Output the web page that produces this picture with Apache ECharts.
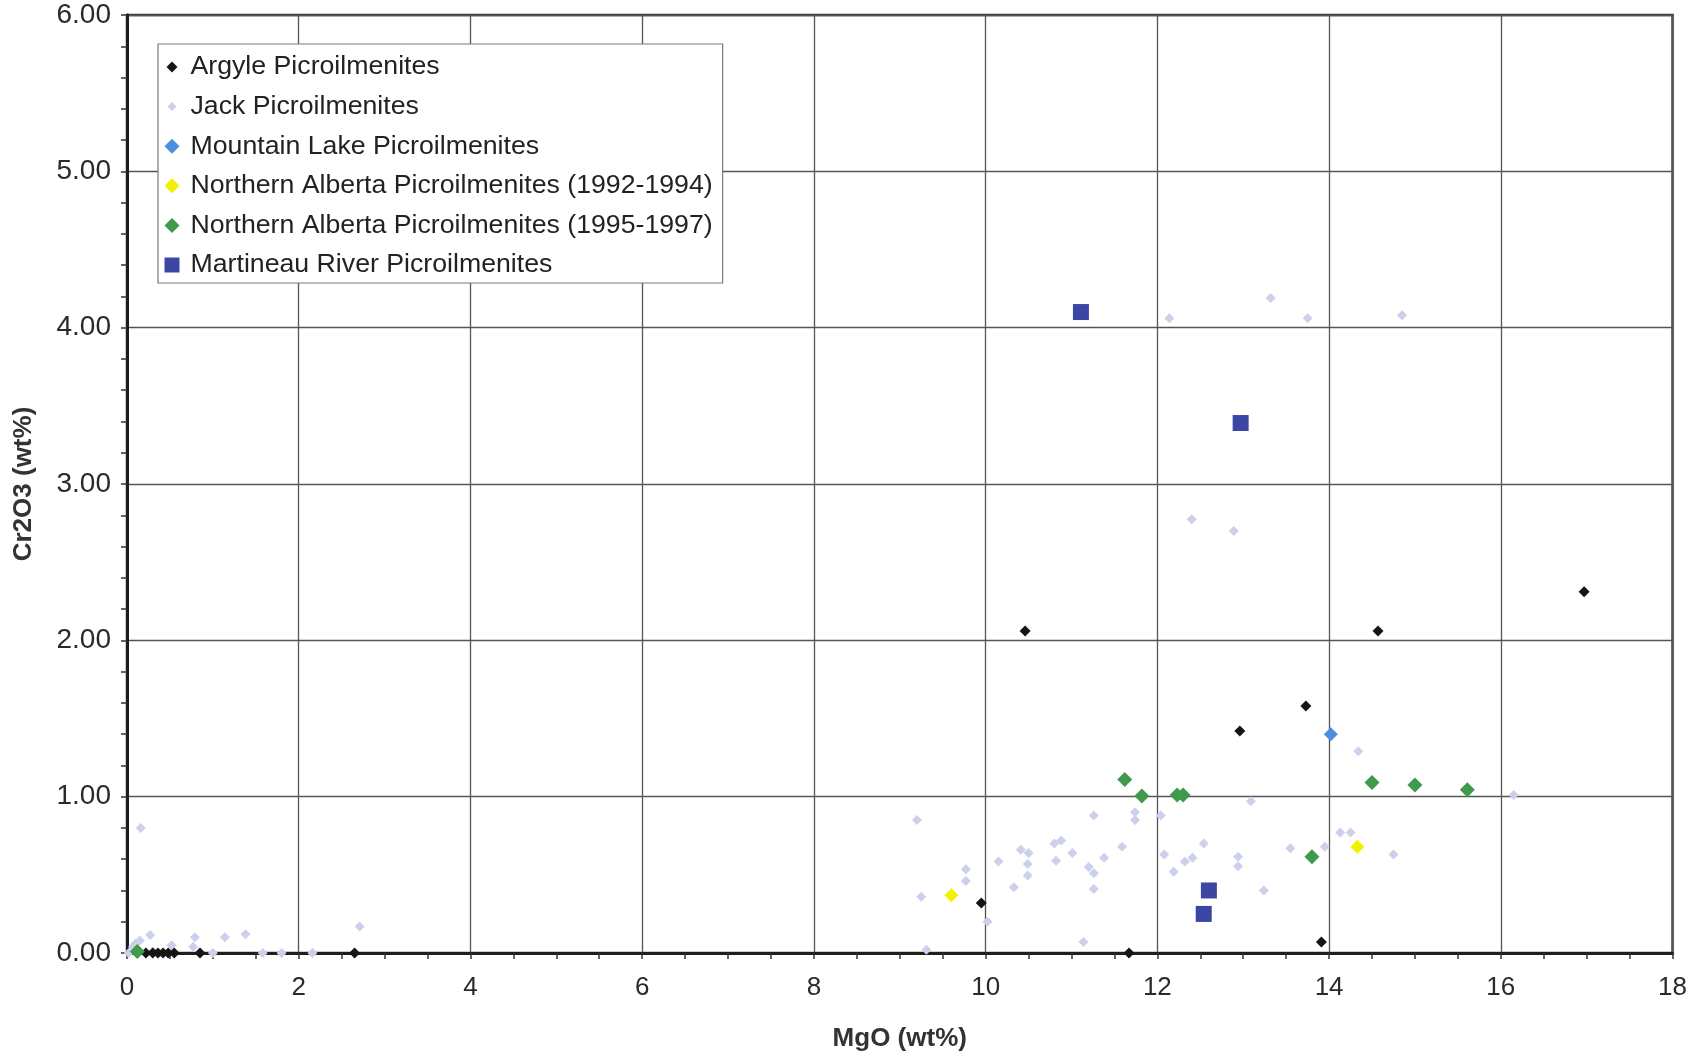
<!DOCTYPE html>
<html>
<head>
<meta charset="utf-8">
<title>Cr2O3 vs MgO – Picroilmenites</title>
<script src="https://cdn.jsdelivr.net/npm/echarts@6/dist/echarts.min.js"></script>
<style>
  html, body { margin: 0; padding: 0; background: #fff; }
  #chart { width: 1690px; height: 1060px; }
</style>
</head>
<body>
<div id="chart"></div>
<script>
// Picroilmenite compositions: [MgO wt%, Cr2O3 wt%]
const argyle = [
  [0.22, 0], [0.30, 0], [0.36, 0], [0.42, 0], [0.48, 0], [0.55, 0], [0.85, 0], [2.65, 0],
  [9.95, 0.32], [10.46, 2.06], [11.67, 0], [12.96, 1.42], [13.73, 1.58],
  [13.91, 0.07], [14.57, 2.06], [16.97, 2.31]
];
const jack = [
  [0.02, 0], [0.07, 0.04], [0.10, 0.06], [0.15, 0.08], [0.27, 0.115], [0.30, 0.01],
  [0.52, 0.05], [0.77, 0.04], [0.79, 0.10], [1.00, 0], [1.14, 0.10], [1.38, 0.12],
  [1.58, 0], [1.80, 0], [2.16, 0], [2.71, 0.17], [0.16, 0.80],
  [9.20, 0.85], [9.25, 0.36], [9.31, 0.02], [9.77, 0.535], [9.77, 0.46], [10.02, 0.20],
  [10.15, 0.585], [10.33, 0.42], [10.41, 0.66], [10.50, 0.64], [10.49, 0.57], [10.49, 0.495],
  [10.80, 0.70], [10.88, 0.72], [10.82, 0.59], [11.01, 0.64], [11.14, 0.07], [11.20, 0.55],
  [11.26, 0.51], [11.26, 0.41], [11.26, 0.88], [11.38, 0.61], [11.59, 0.68], [11.74, 0.90],
  [11.74, 0.85], [12.04, 0.88], [12.08, 0.63], [12.19, 0.52], [12.32, 0.585], [12.41, 0.61],
  [12.54, 0.70], [12.94, 0.615], [12.94, 0.555], [13.09, 0.97], [13.24, 0.40], [13.55, 0.67],
  [13.95, 0.68], [14.13, 0.77], [14.25, 0.77], [14.34, 1.29], [14.75, 0.63], [16.15, 1.01],
  [12.14, 4.06], [13.32, 4.19], [13.75, 4.06], [14.85, 4.08], [12.40, 2.775], [12.89, 2.70]
];
const mountainLake = [[14.02, 1.40]];
const northernAlberta9294 = [[9.60, 0.37], [14.33, 0.68]];
const northernAlberta9597 = [
  [0.12, 0.01], [11.62, 1.11], [11.82, 1.005], [12.23, 1.01], [12.30, 1.01],
  [13.80, 0.615], [14.50, 1.09], [15.00, 1.075], [15.61, 1.045]
];
const martineauRiver = [[11.11, 4.10], [12.97, 3.39], [12.60, 0.40], [12.54, 0.25]];

const seriesNames = [
  'Argyle Picroilmenites',
  'Jack Picroilmenites',
  'Mountain Lake Picroilmenites',
  'Northern Alberta Picroilmenites (1992-1994)',
  'Northern Alberta Picroilmenites (1995-1997)',
  'Martineau River Picroilmenites'
];
const xTicks = { min: 0, max: 18, step: 2 };
const yTicks = { min: 0, max: 6, step: 1 };

const FONT = "'Liberation Sans', Arial, sans-serif";

// legend glyphs: the two leading moves pin a 16x16 box so each glyph keeps its own size
function diamondIcon(s) {
  const h = s / 2, c = 8;
  return `path://M0 0M16 16M${c} ${c - h}L${c + h} ${c}L${c} ${c + h}L${c - h} ${c}Z`;
}
function squareIcon(s) {
  const h = s / 2, c = 8;
  return `path://M0 0M16 16M${c - h} ${c - h}L${c + h} ${c - h}L${c + h} ${c + h}L${c - h} ${c + h}Z`;
}

const colors = {
  argyle: '#151515',
  jack: '#cbd0ed',
  mountain: '#4a8fe0',
  na9294: '#f2f200',
  na9597: '#3f9a4c',
  martineau: '#3c47a3'
};

const chart = echarts.init(document.getElementById('chart'), null, { renderer: 'canvas' });

function scatter(name, data, symbol, size, color, z) {
  return {
    name, type: 'scatter', data, symbol, symbolSize: size, clip: false, z,
    itemStyle: { color, opacity: 1 },
    emphasis: { disabled: true }
  };
}

chart.setOption({
  animation: false,
  backgroundColor: '#ffffff',
  textStyle: { fontFamily: FONT },
  grid: {
    left: 127, right: 16, top: 15, bottom: 107,
    show: true, borderColor: '#3a3a3a', borderWidth: 2.5, backgroundColor: '#fff'
  },
  legend: {
    orient: 'vertical',
    left: 158, top: 44,
    padding: [8, 10, 3, 6],
    itemWidth: 27, itemHeight: 16, itemGap: 9.6,
    backgroundColor: '#fff',
    borderColor: '#7a7a7a', borderWidth: 1.2,
    selectedMode: false,
    textStyle: { fontSize: 26.7, color: '#222', lineHeight: 30, fontFamily: FONT },
    data: [
      { name: seriesNames[0], icon: diamondIcon(11), itemStyle: { color: colors.argyle } },
      { name: seriesNames[1], icon: diamondIcon(9), itemStyle: { color: colors.jack } },
      { name: seriesNames[2], icon: diamondIcon(15), itemStyle: { color: colors.mountain } },
      { name: seriesNames[3], icon: diamondIcon(15), itemStyle: { color: colors.na9294 } },
      { name: seriesNames[4], icon: diamondIcon(15), itemStyle: { color: colors.na9597 } },
      { name: seriesNames[5], icon: squareIcon(15), itemStyle: { color: colors.martineau } }
    ]
  },
  xAxis: {
    type: 'value',
    min: xTicks.min, max: xTicks.max, interval: xTicks.step,
    name: 'MgO (wt%)', nameLocation: 'middle', nameGap: 73,
    nameTextStyle: { fontSize: 26, fontWeight: 'bold', color: '#333', fontFamily: FONT },
    axisLine: { show: true, onZero: false, lineStyle: { color: '#1e1e1e', width: 3 } },
    axisTick: { show: true, length: 6, lineStyle: { color: '#333', width: 1.5 } },
    minorTick: { show: true, splitNumber: 4, length: 6, lineStyle: { color: '#333', width: 1.5 } },
    splitLine: { show: true, lineStyle: { color: '#555', width: 1.3 } },
    axisLabel: { fontSize: 26, color: '#2a2a2a', margin: 22, fontFamily: FONT }
  },
  yAxis: {
    type: 'value',
    min: yTicks.min, max: yTicks.max, interval: yTicks.step,
    name: 'Cr2O3 (wt%)', nameLocation: 'middle', nameGap: 90, nameRotate: 90,
    nameTextStyle: { fontSize: 26, fontWeight: 'bold', color: '#333', fontFamily: FONT },
    axisLine: { show: true, onZero: false, lineStyle: { color: '#1e1e1e', width: 3 } },
    axisTick: { show: true, length: 6, lineStyle: { color: '#333', width: 1.5 } },
    minorTick: { show: true, splitNumber: 5, length: 6, lineStyle: { color: '#333', width: 1.5 } },
    splitLine: { show: true, lineStyle: { color: '#555', width: 1.3 } },
    axisLabel: {
      fontSize: 28, color: '#2a2a2a', margin: 16, fontFamily: FONT,
      formatter: v => v.toFixed(2)
    }
  },
  series: [
    scatter(seriesNames[1], jack, 'diamond', 10, colors.jack, 2),
    scatter(seriesNames[0], argyle, 'diamond', 11, colors.argyle, 3),
    scatter(seriesNames[2], mountainLake, 'diamond', 14, colors.mountain, 3),
    scatter(seriesNames[3], northernAlberta9294, 'diamond', 14, colors.na9294, 3),
    scatter(seriesNames[4], northernAlberta9597, 'diamond', 15, colors.na9597, 3),
    scatter(seriesNames[5], martineauRiver, 'rect', 16, colors.martineau, 4)
  ]
});
</script>
</body>
</html>
